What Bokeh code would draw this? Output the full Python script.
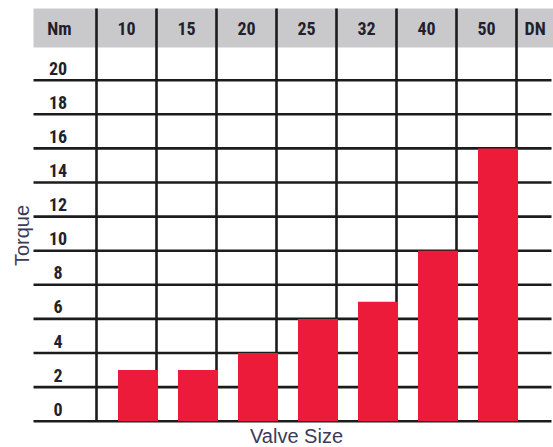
from math import pi
from bokeh.plotting import figure
from bokeh.models import Range1d
from bokeh.core.properties import value
from bokeh.embed import file_html
from bokeh.resources import INLINE

# ---- data ----
valve_sizes = ["10", "15", "20", "25", "32", "40", "50"]
torque_nm = [3, 3, 4, 6, 7, 10, 16]
y_tick_labels = [0, 2, 4, 6, 8, 10, 12, 14, 16, 18, 20]
unit_header = "Nm"
size_header = "DN"
y_title = "Torque"
x_title = "Valve Size"

# ---- layout constants (pixel mapping) ----
W, H = 553, 447
PX_PER_COL = 60.0
COL0_PX = 96.0
PX_PER_NM = 17.05
ZERO_PX = 420.7

def xd(px):
    return (px - COL0_PX) / PX_PER_COL

def yd(py):
    return (ZERO_PX - py) / PX_PER_NM

FONT = "Liberation Sans Narrow, Arial Narrow, Roboto Condensed, sans-serif"
TFONT = "Liberation Sans, Arial, sans-serif"
TXT = "#231f2e"
TTL = "#3c3a58"
RED = "#ed1b3a"
GRID = "#1c1c1c"

p = figure(width=W, height=H, output_backend="svg", toolbar_location=None,
           x_range=Range1d(xd(0), xd(W)), y_range=Range1d(yd(H), yd(0)),
           min_border=0, min_border_left=0, min_border_right=0,
           min_border_top=0, min_border_bottom=0)
p.axis.visible = False
p.xgrid.visible = False
p.ygrid.visible = False
p.outline_line_color = None
p.background_fill_color = "white"
p.border_fill_color = "white"

n = len(valve_sizes)
top_val = yd(8)
head_bot = yd(47)

# header band
p.quad(left=xd(33), right=xd(W), bottom=head_bot, top=top_val,
       fill_color="#c9c9cb", line_color=None)

# horizontal rules at each tick
p.segment(x0=[xd(33)] * len(y_tick_labels), x1=[xd(551)] * len(y_tick_labels),
          y0=y_tick_labels, y1=y_tick_labels, line_color=GRID, line_width=2.6)

# vertical rules at column boundaries
xs = list(range(n + 1))
p.segment(x0=xs, x1=xs, y0=[0] * len(xs), y1=[top_val] * len(xs),
          line_color=GRID, line_width=2.6)

# bars (right-aligned in each column)
bar_w = 40.0 / PX_PER_COL
centers = [i + 1 + (1.5 / PX_PER_COL) - bar_w / 2 for i in range(n)]
p.vbar(x=centers, top=torque_nm, bottom=0, width=bar_w,
       fill_color=RED, line_color=None)

# header texts
hdr_y = yd(28)
p.text(x=[i + 0.5 for i in range(n)], y=[hdr_y] * n, text=valve_sizes,
       text_font=value(FONT), text_font_style="bold", text_font_size="18px",
       text_color=TXT, text_align="center", text_baseline="middle")
p.text(x=[xd(59)], y=[hdr_y], text=[unit_header],
       text_font=value(FONT), text_font_style="bold", text_font_size="18px",
       text_color=TXT, text_align="center", text_baseline="middle")
p.text(x=[xd(524)], y=[hdr_y], text=[size_header],
       text_font=value(FONT), text_font_style="bold", text_font_size="18px",
       text_color=TXT, text_align="left", text_baseline="middle")

# y tick labels sitting above their rules
p.text(x=[xd(57.5)] * len(y_tick_labels), y=[v + 12 / PX_PER_NM for v in y_tick_labels],
       text=[str(v) for v in y_tick_labels],
       text_font=value(FONT), text_font_style="bold", text_font_size="18px",
       text_color=TXT, text_align="center", text_baseline="middle")

# axis titles
p.text(x=[xd(21)], y=[yd(235)], text=[y_title], angle=pi / 2,
       text_font=value(TFONT), text_font_size="20px",
       text_color=TTL, text_align="center", text_baseline="middle")
p.text(x=[xd(296)], y=[yd(435)], text=[x_title],
       text_font=value(TFONT), text_font_size="20px",
       text_color=TTL, text_align="center", text_baseline="middle")

open("out.html", "w").write(file_html(p, INLINE))
